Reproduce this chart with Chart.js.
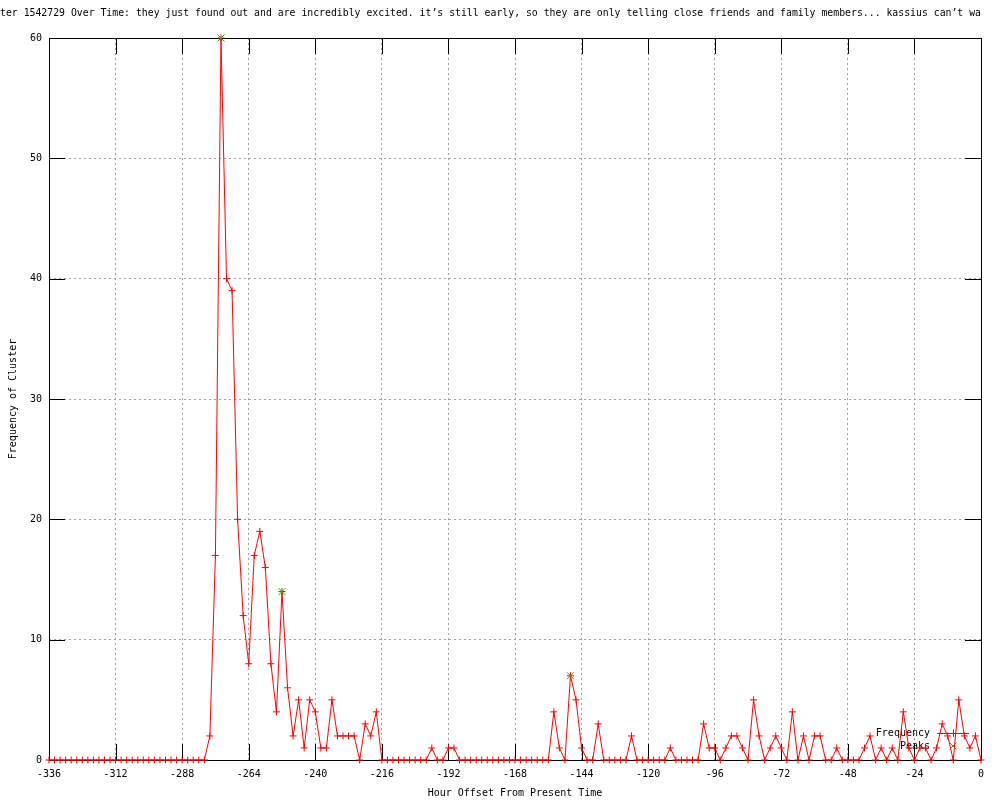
<!DOCTYPE html>
<html>
<head>
<meta charset="utf-8">
<title>Cluster 1542729 Over Time</title>
<script src="https://cdn.jsdelivr.net/npm/chart.js@4/dist/chart.umd.min.js"></script>
<style>
    html, body { margin: 0; padding: 0; background: #fff; }
    #wrap { width: 1000px; height: 800px; }
</style>
</head>
<body>
<div id="wrap"><canvas id="clusterChart" width="1000" height="800"></canvas></div>
<script>
// Title as it shows in the picture (clipped on both sides)
const titleText = 'ter 1542729 Over Time: they just found out and are incredibly excited. it\u2019s still early, so they are only telling close friends and family members... kassius can\u2019t wa';

// Hour offsets, one bin every 2 hours
const hours = [
    -336, -334, -332, -330, -328, -326, -324, -322, -320, -318, -316, -314,
    -312, -310, -308, -306, -304, -302, -300, -298, -296, -294, -292, -290,
    -288, -286, -284, -282, -280, -278, -276, -274, -272, -270, -268, -266,
    -264, -262, -260, -258, -256, -254, -252, -250, -248, -246, -244, -242,
    -240, -238, -236, -234, -232, -230, -228, -226, -224, -222, -220, -218,
    -216, -214, -212, -210, -208, -206, -204, -202, -200, -198, -196, -194,
    -192, -190, -188, -186, -184, -182, -180, -178, -176, -174, -172, -170,
    -168, -166, -164, -162, -160, -158, -156, -154, -152, -150, -148, -146,
    -144, -142, -140, -138, -136, -134, -132, -130, -128, -126, -124, -122,
    -120, -118, -116, -114, -112, -110, -108, -106, -104, -102, -100, -98,
    -96, -94, -92, -90, -88, -86, -84, -82, -80, -78, -76, -74,
    -72, -70, -68, -66, -64, -62, -60, -58, -56, -54, -52, -50,
    -48, -46, -44, -42, -40, -38, -36, -34, -32, -30, -28, -26,
    -24, -22, -20, -18, -16, -14, -12, -10, -8, -6, -4, -2,
    0
];

// Frequency of cluster per bin (same order as hours)
const frequency = [
    0, 0, 0, 0, 0, 0, 0, 0, 0, 0, 0, 0,
    0, 0, 0, 0, 0, 0, 0, 0, 0, 0, 0, 0,
    0, 0, 0, 0, 0, 2, 17, 60, 40, 39, 20, 12,
    8, 17, 19, 16, 8, 4, 14, 6, 2, 5, 1, 5,
    4, 1, 1, 5, 2, 2, 2, 2, 0, 3, 2, 4,
    0, 0, 0, 0, 0, 0, 0, 0, 0, 1, 0, 0,
    1, 1, 0, 0, 0, 0, 0, 0, 0, 0, 0, 0,
    0, 0, 0, 0, 0, 0, 0, 4, 1, 0, 7, 5,
    1, 0, 0, 3, 0, 0, 0, 0, 0, 2, 0, 0,
    0, 0, 0, 0, 1, 0, 0, 0, 0, 0, 3, 1,
    1, 0, 1, 2, 2, 1, 0, 5, 2, 0, 1, 2,
    1, 0, 4, 0, 2, 0, 2, 2, 0, 0, 1, 0,
    0, 0, 0, 1, 2, 0, 1, 0, 1, 0, 4, 1,
    0, 1, 1, 0, 1, 3, 2, 0, 5, 2, 1, 2,
    0
];

// Detected peaks
const peakHours = [-274, -252, -148];
const peakValues = [60, 14, 7];

// Axis ticks
const xTicks = [-336, -312, -288, -264, -240, -216, -192, -168, -144, -120, -96, -72, -48, -24, 0];
const yTicks = [0, 10, 20, 30, 40, 50, 60];

const FONT = 'DejaVu Sans Mono';
const RED = '#ff0000';
const GREEN = '#00c000';
const TIC = 16;

/**
 * Frame, inward tics and the key, gnuplot style
 */
const gnuplotFrame = {
    id: 'gnuplotFrame',
    beforeDatasetsDraw(chart) {
        const { ctx, chartArea: a, scales: { x, y } } = chart;
        ctx.save();
        ctx.strokeStyle = '#000';
        ctx.lineWidth = 1;
        ctx.beginPath();
        xTicks.forEach(v => {
            const px = Math.round(x.getPixelForValue(v)) + 0.5;
            ctx.moveTo(px, a.bottom);
            ctx.lineTo(px, a.bottom - TIC);
            ctx.moveTo(px, a.top);
            ctx.lineTo(px, a.top + TIC);
        });
        yTicks.forEach(v => {
            const py = Math.round(y.getPixelForValue(v)) + 0.5;
            ctx.moveTo(a.left, py);
            ctx.lineTo(a.left + TIC, py);
            ctx.moveTo(a.right, py);
            ctx.lineTo(a.right - TIC, py);
        });
        ctx.stroke();
        ctx.strokeRect(Math.round(a.left) + 0.5, Math.round(a.top) + 0.5,
            Math.round(a.right - a.left), Math.round(a.bottom - a.top));

        // Key in the lower right corner
        const textRight = a.right - 51;
        const s0 = a.right - 44, s1 = a.right - 12, sc = a.right - 28;
        const row1 = a.bottom - 27, row2 = a.bottom - 14;
        ctx.font = '10px "' + FONT + '"';
        ctx.fillStyle = '#000';
        ctx.textAlign = 'right';
        ctx.textBaseline = 'middle';
        ctx.fillText('Frequency', textRight, row1);
        ctx.fillText('Peaks', textRight, row2);

        ctx.strokeStyle = RED;
        ctx.beginPath();
        ctx.moveTo(s0, row1 + 0.5);
        ctx.lineTo(s1, row1 + 0.5);
        ctx.moveTo(sc + 0.5, row1 - 3.5);
        ctx.lineTo(sc + 0.5, row1 + 4);
        ctx.stroke();

        ctx.strokeStyle = GREEN;
        ctx.beginPath();
        ctx.moveTo(sc - 3.5, row2 - 3.5);
        ctx.lineTo(sc + 3.5, row2 + 3.5);
        ctx.moveTo(sc + 3.5, row2 - 3.5);
        ctx.lineTo(sc - 3.5, row2 + 3.5);
        ctx.stroke();
        ctx.restore();
    }
};

Chart.defaults.font.family = FONT;
Chart.defaults.font.size = 10;
Chart.defaults.color = '#000';

const ctx = document.getElementById('clusterChart');

new Chart(ctx, {
    type: 'line',
    data: {
        datasets: [
            {
                label: 'Peaks',
                data: peakHours.map((h, i) => ({ x: h, y: peakValues[i] })),
                showLine: false,
                pointStyle: 'crossRot',
                pointRadius: 5,
                pointBorderColor: GREEN,
                pointBorderWidth: 1,
                borderColor: GREEN,
                order: 0,
                clip: false
            },
            {
                label: 'Frequency',
                data: hours.map((h, i) => ({ x: h, y: frequency[i] })),
                borderColor: RED,
                borderWidth: 1,
                tension: 0,
                fill: false,
                pointStyle: 'cross',
                pointRadius: 3.5,
                pointBorderColor: RED,
                pointBorderWidth: 1,
                order: 1,
                clip: false
            }
        ]
    },
    options: {
        responsive: false,
        animation: false,
        devicePixelRatio: 1,
        layout: {
            padding: { left: 0, right: 19, top: 0, bottom: 0 }
        },
        plugins: {
            legend: { display: false },
            tooltip: { enabled: false },
            title: {
                display: true,
                text: titleText,
                align: 'start',
                font: { family: FONT, size: 10, weight: 'normal' },
                padding: { top: 7, bottom: 19 }
            }
        },
        scales: {
            x: {
                type: 'linear',
                min: -336,
                max: 0,
                afterBuildTicks: scale => {
                    scale.ticks = xTicks.map(v => ({ value: v }));
                },
                afterFit: scale => {
                    scale.height = 40;
                },
                ticks: {
                    padding: 8,
                    maxRotation: 0,
                    autoSkip: false,
                    callback: v => String(v)
                },
                grid: {
                    color: '#a0a0a0',
                    drawTicks: false
                },
                border: { display: false, dash: [2, 3] },
                title: {
                    display: true,
                    text: 'Hour Offset From Present Time',
                    padding: { top: 0, bottom: 1 }
                }
            },
            y: {
                min: 0,
                max: 60,
                afterBuildTicks: scale => {
                    scale.ticks = yTicks.map(v => ({ value: v }));
                },
                afterFit: scale => {
                    scale.width = 49;
                },
                ticks: {
                    padding: 7,
                    callback: v => String(v)
                },
                grid: {
                    color: '#a0a0a0',
                    drawTicks: false
                },
                border: { display: false, dash: [2, 3] },
                title: {
                    display: true,
                    text: 'Frequency of Cluster',
                    padding: { top: 7, bottom: 0 }
                }
            }
        }
    },
    plugins: [gnuplotFrame]
});
</script>
</body>
</html>
